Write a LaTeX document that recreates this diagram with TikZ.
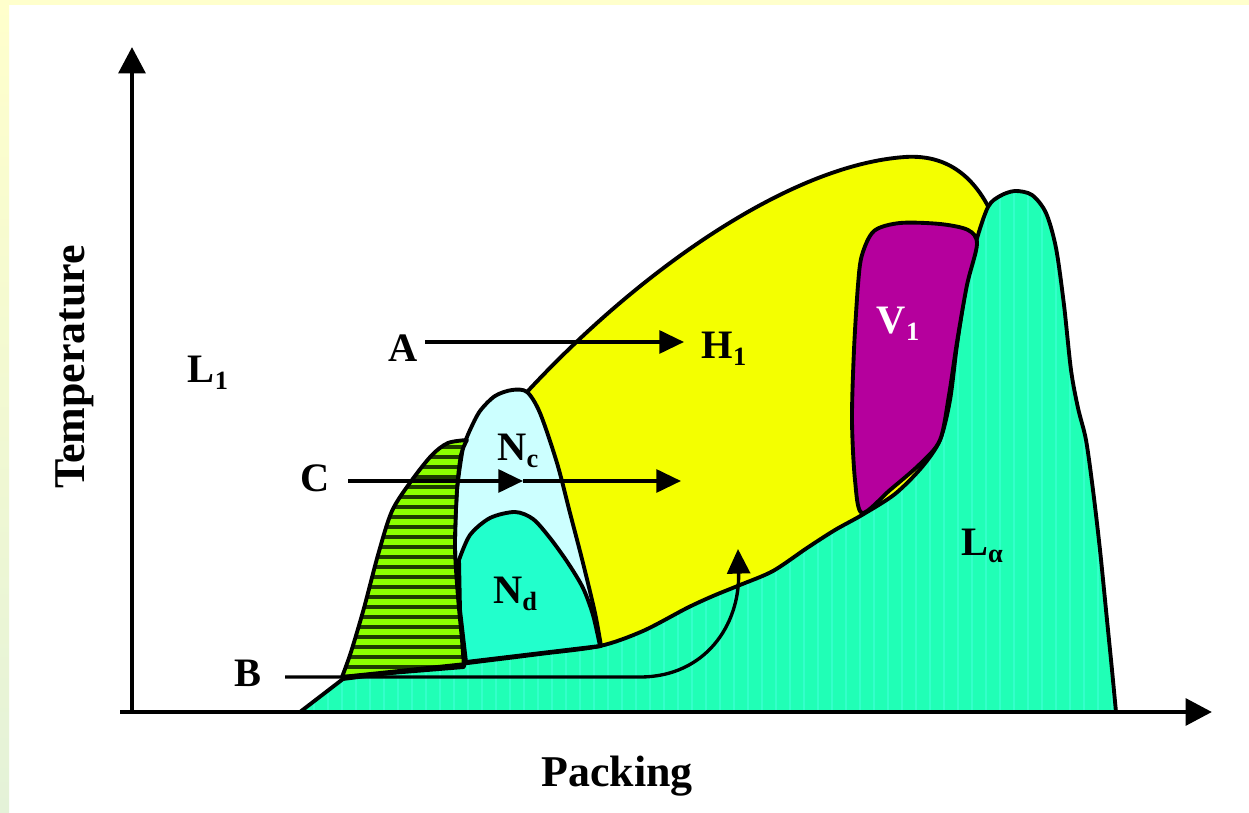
\documentclass[tikz,border=0pt]{standalone}
\usepackage{fontspec}
\setmainfont{Liberation Serif}
\usetikzlibrary{arrows.meta}
\definecolor{framey}{HTML}{FFFFCC}
\definecolor{frameg}{HTML}{E4F2D8}
\definecolor{hyel}{HTML}{F4FF00}
\definecolor{lalpha}{HTML}{20FFB6}
\definecolor{lastr}{HTML}{34FFCA}
\definecolor{ncol}{HTML}{CCFFFF}
\definecolor{ndcol}{HTML}{22FFCC}
\definecolor{vcol}{HTML}{B5009D}
\definecolor{sgreen}{HTML}{8CFF00}
\definecolor{sdark}{HTML}{1E3C00}
\newcommand\labfont{\fontsize{23}{26}\selectfont\bfseries}
\newcommand\bigfont{\fontsize{25}{28}\selectfont\bfseries}
\newcommand\subs[1]{\raisebox{-4pt}{\fontsize{15}{15}\selectfont #1}}
\newcommand\LaPath{(300,712) -- (343,679) -- (468,663) -- plot[smooth] coordinates {(468,663)(540,654)(600,646)(643,631)(687,608)(713,596)(740,585)(773,571)(807,548)(835,530)(862,515)(895,494)(922,467)(940,440)(950,400)(957,345)(966,287)(976,242)(988,207)(1000,196)(1015,191)(1032,195)(1046,213)(1056,248)(1064,305)(1071,370)(1078,408)(1086,440)(1093,490)(1100,550)(1107,620)(1112,670)(1116,712)} -- cycle}
\newcommand\StPath{plot[smooth] coordinates {(467,440)(448,443)(432,455)(412,480)(392,511)(378,555)(364,608)(351,652)(342,677)} -- plot[smooth] coordinates {(464,667)(462,640)(458,597)(455,547)(457,490)(461,455)(467,440)} -- cycle}
\newcommand\TopCurve{(527,392) .. controls (640,270) and (790,165) .. (905,157) .. controls (950,154) and (975,180) .. (990,210)}
\begin{document}
\begin{tikzpicture}[x=0.02cm,y=-0.02cm,
  outl/.style={line width=2.2pt,line join=round},
  arr/.style={line width=1.9pt,-{Triangle[length=14pt,width=13pt]}},
  axisarrow/.style={line width=2.8pt,-{Triangle[length=15pt,width=15pt]}},
  lab/.style={font=\labfont,inner sep=0pt},
  big/.style={font=\bigfont,inner sep=0pt}]
\useasboundingbox (0,0) rectangle (1249,813);
\fill[white] (0,0) rectangle (1249,813);
\fill[framey] (0,0) rectangle (1249,5);
\shade[top color=framey,bottom color=frameg] (0,0) rectangle (9,813);
% H1 yellow region
\fill[hyel] \TopCurve -- (1000,230) -- (1000,520) -- (620,690) -- (560,690) -- (520,400) -- cycle;
\draw[outl] \TopCurve;
% L alpha
\begin{scope}
\clip \LaPath;
\fill[lalpha] (290,180) rectangle (1130,720);
\foreach \x in {300,314,...,1120} \draw[lastr,line width=1.6pt] (\x,180) -- (\x,720);
\end{scope}
\draw[outl] \LaPath;
% Nc
\filldraw[outl,fill=ncol] plot[smooth] coordinates {(463,447)(470,430)(480,411)(495,396)(512,390)(527,392)(540,413)(557,463)(570,513)(583,563)(595,613)(601,646)} -- (466,662) -- plot[smooth] coordinates {(464,650)(458,597)(455,547)(457,490)(463,447)} -- cycle;
% Nd
\filldraw[outl,fill=ndcol] plot[smooth] coordinates {(459,560)(470,535)(490,518)(515,512)(533,519)(550,538)(568,563)(583,588)(593,615)(600,646)} -- (466,662) -- (460,610) -- cycle;
% striped region
\begin{scope}
\clip \StPath;
\fill[sgreen] (330,430) rectangle (480,690);
\foreach \y in {447,457,...,687} \draw[sdark,line width=2.2pt] (330,\y) -- (480,\y);
\end{scope}
\draw[outl] \StPath;
\draw[outl] (342,677) -- (466,664);
% V1
\filldraw[outl,fill=vcol] plot[smooth cycle] coordinates {(862,255)(874,231)(900,223)(940,224)(968,230)(977,244)(967,285)(957,342)(949,395)(940,440)(920,464)(890,490)(862,513)(855,480)(852,420)(854,350)(858,285)};
% arrows
\coordinate (a0) at (425,342);
\coordinate (a1) at (684,342);
\coordinate (c0) at (348,481);
\coordinate (cm) at (523,481);
\coordinate (c1) at (681,481);
\coordinate (b0) at (285,677);
\coordinate (b1) at (640,677);
\coordinate (b2) at (738,549);
\draw[arr] (a0) -- (a1);
\draw[arr] (c0) -- (cm);
\draw[arr] (cm) -- (c1);
\draw[arr] (b0) -- (b1) .. controls (705,677) and (740,625) .. (b2);
% axes
\coordinate (yb) at (132,714);
\coordinate (yt) at (132,47);
\coordinate (xl) at (120,712);
\coordinate (xr) at (1212,712);
\draw[axisarrow] (yb) -- (yt);
\draw[axisarrow] (xl) -- (xr);
% labels
\node[lab] (L1) at (208,373) {L\subs{1}};
\node[lab] (A) at (403,348) {A};
\node[lab] (H1) at (724,349) {H\subs{1}};
\node[lab] (C) at (315,478) {C};
\node[lab] (B) at (248,673) {B};
\node[lab] (Nc) at (518,451) {N\subs{c}};
\node[lab] (Nd) at (515,594) {N\subs{d}};
\node[lab,text=white] (V1) at (898,324) {V\subs{1}};
\node[lab] (La) at (982,546) {L\subs{α}};
\node[big,rotate=90] (T) at (75,367) {Temperature};
\node[big] (P) at (617,776) {Packing};
\end{tikzpicture}
\end{document}
